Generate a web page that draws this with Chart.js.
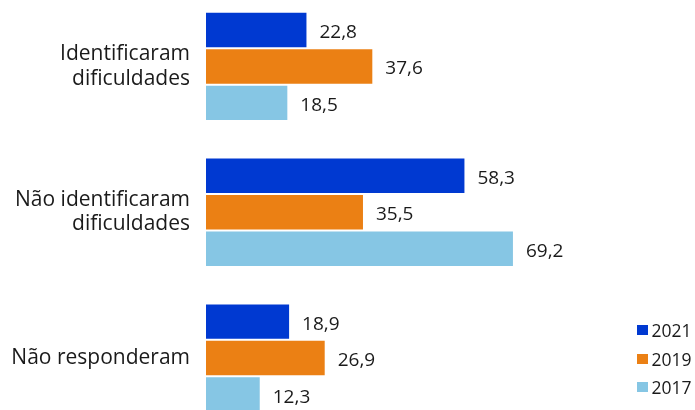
<!DOCTYPE html>
<html>
<head>
<meta charset="utf-8">
<script src="https://cdn.jsdelivr.net/npm/chart.js@4/dist/chart.umd.min.js"></script>
<style>
  html, body { margin:0; padding:0; background:#fff; overflow:hidden; }
  #wrap { position:relative; width:695px; height:410px; overflow:hidden; }
  #box { position:absolute; left:0; top:-7px; width:695px; height:438px; }
  #legend { position:absolute; left:637px; top:316px; font-family:"Open Sans", sans-serif; font-size:17.5px; color:#1a1a1a; }
  #legend div { height:28.6px; display:flex; align-items:center; }
  #legend span.sq { display:inline-block; width:10.5px; height:10px; margin-right:4px; }
</style>
</head>
<body>
<div id="wrap">
  <div id="box"><canvas id="chart"></canvas></div>
  <div id="legend"></div>
</div>
<script>
const categories = [["Identificaram","dificuldades"], ["Não identificaram","dificuldades"], ["Não responderam"]];
const years = ["2021", "2019", "2017"];
const v2021 = [22.8, 58.3, 18.9];
const v2019 = [37.6, 35.5, 26.9];
const v2017 = [18.5, 69.2, 12.3];
const colors = ["#0039D1", "#EB8014", "#86C6E4"];

const FONT = "'Open Sans', sans-serif";

/* value labels at end of bars */
const barLabels = {
  id: "barLabels",
  afterDatasetsDraw(chart){
    const ctx = chart.ctx;
    ctx.save();
    ctx.font = "19px " + FONT;
    ctx.fillStyle = "#1a1a1a";
    ctx.textAlign = "left";
    ctx.textBaseline = "alphabetic";
    chart.data.datasets.forEach((ds, i) => {
      chart.getDatasetMeta(i).data.forEach((bar, j) => {
        let txt = ds.data[j].toFixed(1).replace(".", ",");
        ctx.fillText(txt, bar.x + 12, bar.y + 8);
      });
    });
    ctx.restore();
  }
};

const allSeries = [v2021, v2019, v2017];

new Chart(document.getElementById("chart"), {
  type: "bar",
  data: {
    labels: categories,
    datasets: years.map((y, i) => ({
      label: y,
      data: allSeries[i],
      backgroundColor: colors[i],
      borderColor: "rgba(255,255,255,0.35)",
      borderWidth: 1,
      categoryPercentage: 0.75,
      barPercentage: 1
    }))
  },
  options: {
    indexAxis: "y",
    responsive: true,
    maintainAspectRatio: false,
    animation: false,
    layout: { padding: { top: 0.5, bottom: 0, right: 44, left: 0 } },
    plugins: { legend: { display: false }, tooltip: { enabled: false } },
    scales: {
      x: { display: false, min: 0, max: 100 },
      y: {
        grid: { display: false, drawTicks: false },
        border: { display: false },
        ticks: {
          color: "#1a1a1a",
          font: { family: FONT, size: 21, lineHeight: 1.167 },
          padding: 16
        },
        afterFit(scale){
          scale.width = 206;
          scale.paddingTop = 0;
          scale.paddingBottom = 0;
        }
      }
    }
  },
  plugins: [barLabels]
});

/* legend */
const leg = document.getElementById("legend");
years.forEach((y, i) => {
  let row = document.createElement("div");
  row.innerHTML = `<span class="sq" style="background:${colors[i]}"></span>${y}`;
  leg.appendChild(row);
});
</script>
</body>
</html>
